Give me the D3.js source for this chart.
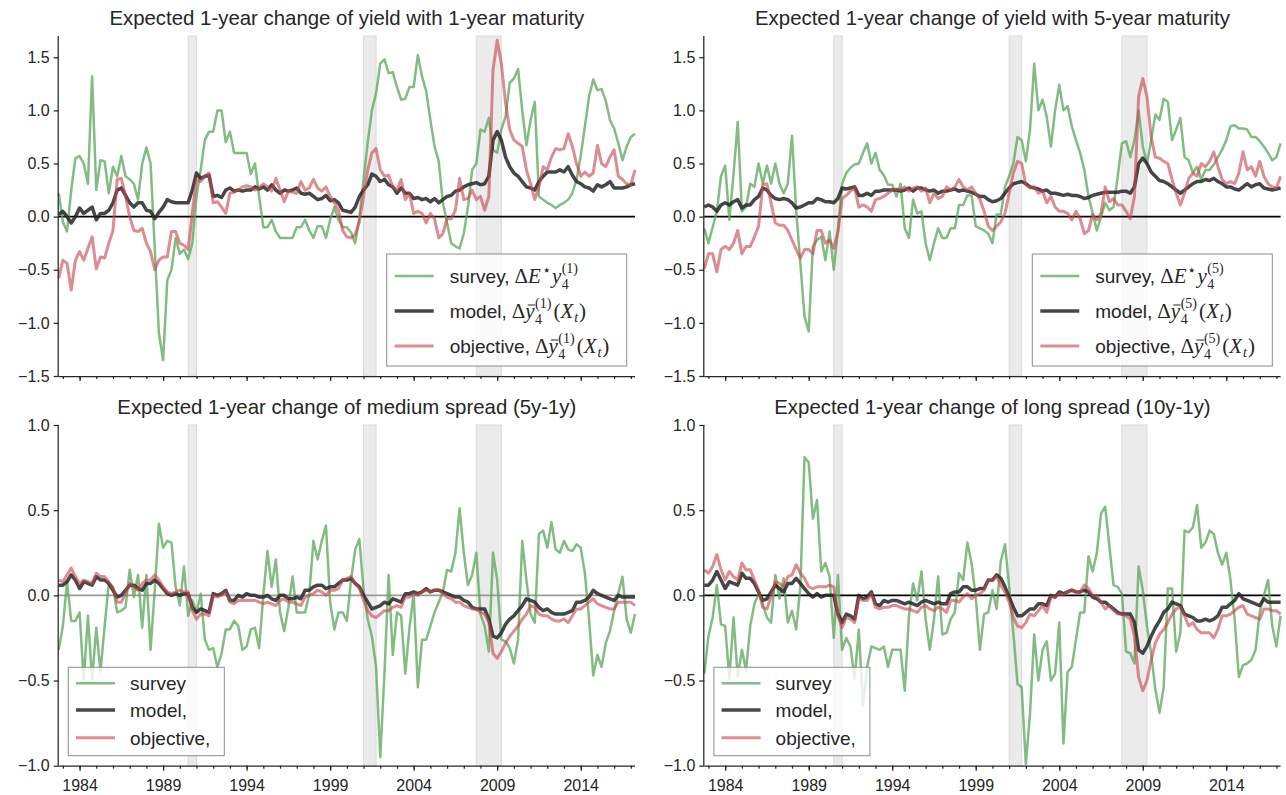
<!DOCTYPE html>
<html>
<head>
<meta charset="utf-8" />
<title>Expected changes</title>
<script src="https://d3js.org/d3.v7.min.js"></script>
<style>
  body { margin: 0; background: #fff; }
  text { font-family: "Liberation Sans", Arial, sans-serif; fill: #262626; white-space: pre; }
</style>
</head>
<body>
<svg id="chart" width="1286" height="795"></svg>
<script>
// quarterly observations, first one 1982Q4
const startYear = 1982.75;
const yearTicks = [1984, 1989, 1994, 1999, 2004, 2009, 2014];
const recessions = [[1990.5, 1991.0], [2001.0, 2001.75], [2007.75, 2009.25]];

// 1-year yield
const surveyY1 = [0.22,-0.05,-0.14,0.25,0.55,0.57,0.5,0.31,1.32,0.25, 0.53,0.52,0.22,0.47,0.38,0.57,0.38,0.35,0.31,0.16,
  0.5,0.65,0.5,-0.3,-1.1,-1.35,-0.6,-0.5,-0.2,-0.35, -0.31,-0.4,-0.25,0.19,0.44,0.72,0.8,0.8,1.0,1.0,
  0.7,0.8,0.6,0.6,0.6,0.6,0.4,0.5,0.19,-0.1, -0.1,-0.03,-0.14,-0.2,-0.2,-0.2,-0.2,-0.1,-0.1,-0.03,
  -0.13,-0.2,-0.09,-0.09,-0.2,
  -0.03,0.09,-0.03,-0.1,-0.1,-0.15,-0.25,0.0,0.35,0.7, 1.0,1.16,1.44,1.48,1.35,1.36,1.22,1.1,1.11,1.22,
  1.22,1.52,1.32,1.18,0.91,0.66,0.52,0.13,-0.06,-0.25, -0.28,-0.3,-0.16,0.09,0.44,0.5,0.82,0.8,0.93,0.63,
  0.6,0.82,0.94,1.26,1.3,1.39,1.0,0.67,0.91,1.08, 0.19,0.16,0.13,0.11,0.08,0.11,0.13,0.16,0.22,0.35,
  0.57,0.85,1.13,1.29,1.19,1.2,1.09,0.91,0.83,0.69, 0.53,0.66,0.75,0.78];
const modelY1 = [0.02,0.05,0.0,-0.06,0.0,0.08,0.03,0.06,0.09,-0.03, 0.03,0.03,0.06,0.13,0.25,0.27,0.2,0.13,0.09,0.13,
  0.13,0.06,0.05,-0.02,0.04,0.09,0.16,0.14,0.13,0.13, 0.13,0.13,0.25,0.41,0.36,0.38,0.39,0.19,0.2,0.18,
  0.25,0.27,0.24,0.25,0.24,0.25,0.25,0.28,0.26,0.28, 0.25,0.3,0.25,0.22,0.25,0.24,0.25,0.27,0.22,0.21,
  0.22,0.19,0.16,0.17,0.2,
  0.15,0.16,0.13,0.06,0.05,0.04,0.09,0.19,0.25,0.3, 0.4,0.38,0.33,0.35,0.3,0.28,0.22,0.27,0.22,0.22,
  0.17,0.18,0.16,0.17,0.14,0.17,0.13,0.16,0.19,0.2, 0.24,0.25,0.28,0.3,0.31,0.32,0.3,0.31,0.38,0.72,
  0.8,0.72,0.56,0.47,0.41,0.38,0.33,0.28,0.27,0.25, 0.33,0.38,0.42,0.42,0.42,0.44,0.42,0.47,0.39,0.33,
  0.31,0.28,0.27,0.24,0.3,0.28,0.3,0.33,0.27,0.27, 0.27,0.28,0.3,0.31];
const objY1 = [-0.58,-0.41,-0.44,-0.69,-0.41,-0.33,-0.41,-0.3,-0.19,-0.49, -0.38,-0.39,-0.25,-0.13,0.35,0.36,0.19,0.0,-0.13,-0.14,
  -0.11,-0.25,-0.33,-0.5,-0.41,-0.38,-0.38,-0.14,-0.14,-0.25, -0.27,-0.31,0.03,0.35,0.33,0.38,0.41,0.13,0.14,0.09,
  0.03,0.22,0.23,0.25,0.28,0.29,0.28,0.25,0.27,0.31, 0.28,0.24,0.36,0.25,0.14,0.24,0.23,0.22,0.33,0.25,
  0.27,0.35,0.27,0.24,0.28,
  0.19,0.13,0.06,-0.13,-0.19,-0.2,-0.17,-0.05,0.19,0.44, 0.6,0.64,0.44,0.38,0.39,0.28,0.25,0.35,0.16,0.22,
  0.03,0.05,0.03,-0.06,0.03,-0.02,-0.2,-0.16,-0.02,-0.02, 0.06,0.36,0.16,0.17,0.25,0.16,0.19,0.06,0.19,1.38,
  1.66,1.44,1.07,0.82,0.72,0.69,0.66,0.44,0.31,0.16, 0.28,0.47,0.44,0.56,0.64,0.63,0.64,0.78,0.66,0.5,
  0.38,0.42,0.38,0.41,0.67,0.5,0.47,0.56,0.63,0.38, 0.35,0.31,0.3,0.44];

// 5-year yield
const surveyY5 = [-0.11,-0.25,-0.1,0.05,0.38,0.48,-0.03,0.4,0.89,0.05, 0.09,0.31,0.28,0.5,0.31,0.48,0.31,0.5,0.31,0.22,
  0.31,0.76,0.06,-0.44,-0.94,-1.08,-0.28,-0.22,-0.19,-0.41, -0.14,-0.5,-0.13,0.31,0.41,0.46,0.49,0.5,0.6,0.69,
  0.5,0.6,0.44,0.39,0.3,0.3,0.19,0.31,-0.11,-0.2, 0.16,0.03,0.05,-0.25,-0.41,-0.25,-0.11,-0.2,-0.2,-0.11,
  -0.11,0.11,0.11,0.2,0.2,
  -0.09,-0.11,-0.13,-0.16,-0.25,0.02,0.02,0.28,0.38,0.5, 0.75,0.72,0.52,0.82,1.44,1.0,1.1,0.94,0.66,1.0,
  1.24,1.0,1.04,0.85,0.72,0.6,0.44,0.19,0.03,-0.13, 0.0,0.13,0.06,0.09,0.38,0.69,0.71,0.56,0.72,1.0,
  0.66,0.5,0.72,0.96,0.91,1.11,1.08,0.72,0.82,0.93, 0.56,0.53,0.41,0.47,0.35,0.44,0.44,0.49,0.56,0.63,
  0.72,0.85,0.86,0.83,0.83,0.82,0.75,0.75,0.71,0.66, 0.6,0.53,0.56,0.69];
const modelY5 = [0.09,0.11,0.09,0.05,0.11,0.13,0.11,0.14,0.16,0.08, 0.11,0.11,0.16,0.19,0.27,0.25,0.2,0.17,0.16,0.17,
  0.16,0.13,0.08,0.09,0.11,0.13,0.13,0.17,0.16,0.14, 0.14,0.13,0.17,0.27,0.26,0.27,0.28,0.2,0.2,0.22,
  0.2,0.24,0.24,0.25,0.25,0.25,0.25,0.24,0.25,0.27, 0.24,0.27,0.27,0.25,0.24,0.25,0.22,0.24,0.24,0.25,
  0.26,0.24,0.25,0.24,0.23,
  0.21,0.19,0.19,0.16,0.14,0.15,0.17,0.22,0.27,0.31, 0.32,0.33,0.31,0.28,0.27,0.26,0.24,0.25,0.22,0.22,
  0.21,0.2,0.21,0.2,0.2,0.19,0.17,0.18,0.2,0.21, 0.22,0.23,0.23,0.23,0.23,0.24,0.24,0.22,0.28,0.5,
  0.55,0.5,0.42,0.38,0.34,0.33,0.31,0.28,0.25,0.22, 0.25,0.28,0.31,0.33,0.33,0.35,0.34,0.36,0.33,0.31,
  0.28,0.28,0.26,0.25,0.28,0.31,0.28,0.3,0.31,0.27, 0.26,0.25,0.26,0.27];
const objY5 = [-0.49,-0.35,-0.35,-0.52,-0.31,-0.28,-0.31,-0.25,-0.13,-0.35, -0.28,-0.28,-0.19,-0.09,0.3,0.31,0.13,-0.06,-0.08,-0.08,
  -0.13,-0.22,-0.31,-0.39,-0.31,-0.31,-0.35,-0.13,-0.13,-0.25, -0.22,-0.3,-0.14,0.17,0.2,0.24,0.27,0.09,0.11,0.09,
  0.05,0.16,0.17,0.19,0.22,0.25,0.26,0.25,0.28,0.24, 0.27,0.28,0.24,0.27,0.13,0.22,0.17,0.19,0.28,0.25,
  0.28,0.35,0.28,0.25,0.28,
  0.22,0.16,0.05,-0.09,-0.13,-0.09,-0.05,0.03,0.22,0.41, 0.52,0.5,0.3,0.27,0.28,0.22,0.24,0.13,0.19,0.09,
  0.05,0.05,0.03,-0.03,0.05,-0.02,-0.16,-0.13,0.02,-0.03, 0.03,0.28,0.14,0.17,0.11,0.11,0.05,-0.02,0.19,1.13,
  1.3,1.13,0.75,0.56,0.55,0.52,0.5,0.35,0.22,0.11, 0.22,0.36,0.41,0.38,0.5,0.47,0.52,0.61,0.47,0.35,
  0.31,0.33,0.31,0.41,0.61,0.44,0.47,0.38,0.52,0.38, 0.31,0.28,0.27,0.38];

// medium spread 5y-1y
const surveyS51 = [-0.32,-0.18,0.08,-0.15,-0.15,-0.1,-0.5,-0.12,-0.5,-0.19, -0.45,-0.18,0.07,0.05,-0.1,-0.09,-0.07,0.15,-0.01,0.12,
  -0.19,0.12,-0.32,0.03,0.42,0.28,0.32,0.31,0.05,-0.06, 0.17,-0.12,-0.03,-0.1,0.01,-0.26,-0.32,-0.31,-0.42,-0.34,
  -0.2,-0.2,-0.15,-0.18,-0.32,-0.3,-0.2,-0.19,-0.31,0.0, 0.26,0.05,0.21,-0.1,-0.21,-0.07,0.11,-0.1,-0.1,-0.1,
  0.01,0.32,0.21,0.32,0.41,
  -0.04,-0.2,-0.1,-0.1,-0.15,0.09,0.27,0.33,0.03,-0.14, -0.24,-0.42,-0.95,-0.46,0.12,-0.35,-0.1,-0.12,-0.46,-0.19,
  0.01,-0.54,-0.26,-0.26,-0.18,-0.1,-0.04,0.02,0.15,0.14, 0.25,0.51,0.25,0.06,0.12,0.25,-0.11,-0.18,-0.33,0.25,
  0.09,-0.26,-0.27,-0.31,-0.4,-0.26,0.32,0.09,-0.11,-0.16, 0.36,0.38,0.28,0.43,0.27,0.25,0.32,0.27,0.26,0.3,
  0.28,0.13,-0.14,-0.47,-0.35,-0.42,-0.28,-0.21,-0.09,0.01, 0.11,-0.14,-0.22,-0.11];
const modelS51 = [0.06,0.06,0.08,0.12,0.09,0.04,0.08,0.07,0.06,0.11, 0.09,0.09,0.07,0.03,-0.01,0.0,0.03,0.06,0.06,0.04,
  0.03,0.07,0.07,0.09,0.07,0.04,0.01,0.0,0.01,0.0, 0.01,0.01,-0.07,-0.1,-0.08,-0.09,-0.1,0.01,0.0,0.01,
  0.03,-0.03,-0.03,0.0,-0.01,0.01,0.0,0.0,-0.01,-0.01, 0.0,-0.02,-0.03,0.0,0.0,-0.02,-0.02,-0.01,-0.02,0.03,
  0.03,0.05,0.06,0.06,0.04,
  0.05,0.05,0.07,0.09,0.09,0.1,0.07,0.05,0.0,-0.04, -0.08,-0.07,-0.06,-0.04,-0.05,-0.02,-0.03,-0.04,0.01,0.01,
  0.02,0.01,0.02,0.04,0.02,0.03,0.03,0.02,0.01,0.0, -0.01,-0.01,-0.03,-0.04,-0.07,-0.08,-0.08,-0.08,-0.14,-0.24,
  -0.25,-0.22,-0.17,-0.14,-0.12,-0.09,-0.06,-0.02,-0.03,-0.04, -0.07,-0.09,-0.08,-0.1,-0.11,-0.11,-0.11,-0.1,-0.09,-0.04,
  -0.04,-0.03,-0.01,0.03,0.01,0.0,-0.01,-0.02,-0.03,0.0, -0.01,-0.01,-0.01,-0.01];
const objS51 = [0.09,0.08,0.12,0.16,0.11,0.07,0.09,0.08,0.07,0.13, 0.11,0.11,0.08,0.04,-0.04,-0.04,0.01,0.07,0.05,0.03,
  0.07,0.09,0.09,0.12,0.09,0.05,0.02,0.01,0.02,0.03, 0.02,0.02,-0.09,-0.14,-0.11,-0.11,-0.12,0.0,-0.01,0.0,
  0.02,-0.04,-0.05,-0.03,-0.03,-0.03,-0.03,-0.03,-0.04,-0.05, -0.04,-0.05,-0.06,-0.03,-0.02,-0.04,-0.04,-0.05,-0.06,-0.01,
  0.0,0.01,0.03,0.02,0.0,
  0.03,0.03,0.04,0.09,0.1,0.11,0.07,0.04,-0.03,-0.09, -0.12,-0.13,-0.11,-0.09,-0.09,-0.07,-0.06,-0.07,-0.01,-0.01,
  0.01,0.0,0.02,0.03,0.02,0.03,0.03,0.01,-0.01,-0.02, -0.04,-0.04,-0.06,-0.07,-0.08,-0.08,-0.1,-0.11,-0.16,-0.34,
  -0.37,-0.33,-0.28,-0.24,-0.21,-0.18,-0.14,-0.11,-0.06,-0.07, -0.11,-0.12,-0.12,-0.14,-0.15,-0.15,-0.14,-0.16,-0.12,-0.08,
  -0.08,-0.06,-0.04,-0.02,-0.05,-0.06,-0.07,-0.08,-0.08,-0.04, -0.04,-0.04,-0.04,-0.06];

// long spread 10y-1y
const surveyS101 = [-0.46,-0.24,-0.13,0.06,-0.17,-0.18,-0.49,-0.13,-0.48,-0.32, -0.44,-0.18,-0.05,0.01,-0.05,-0.13,-0.16,0.12,-0.02,0.1,
  -0.16,-0.09,-0.2,0.05,0.81,0.78,0.45,0.56,0.14,0.19, 0.11,-0.25,0.12,-0.32,-0.25,-0.3,-0.49,-0.2,-0.65,-0.42,
  -0.3,-0.31,-0.32,-0.3,-0.42,-0.32,-0.32,-0.32,-0.56,-0.12, 0.07,-0.03,0.14,-0.14,-0.32,-0.14,0.11,-0.23,-0.22,-0.14,
  -0.1,0.13,0.09,0.31,0.19,
  -0.01,-0.32,-0.11,-0.1,0.03,-0.08,0.2,0.3,0.05,-0.22, -0.52,-0.54,-0.99,-0.69,-0.23,-0.5,-0.32,-0.27,-0.5,-0.46,
  -0.16,-0.87,-0.45,-0.42,-0.26,-0.1,-0.1,0.23,0.14,0.25, 0.48,0.52,0.29,0.06,0.05,0.01,-0.33,-0.34,-0.4,0.17,
  0.03,-0.18,-0.34,-0.55,-0.69,-0.54,0.04,0.04,-0.33,-0.22, 0.38,0.37,0.4,0.53,0.28,0.31,0.38,0.36,0.25,0.18,
  0.25,0.09,-0.14,-0.48,-0.41,-0.4,-0.38,-0.32,-0.1,0.0, 0.09,-0.18,-0.3,-0.12];
const modelS101 = [0.06,0.06,0.09,0.14,0.09,0.04,0.08,0.07,0.06,0.13, 0.1,0.1,0.07,0.02,-0.03,-0.02,0.02,0.06,0.04,0.02,
  0.07,0.07,0.1,0.07,0.04,0.01,-0.01,0.01,-0.01,0.0, 0.0,0.0,-0.11,-0.16,-0.11,-0.12,-0.14,0.0,-0.02,-0.01,
  0.02,-0.05,-0.06,-0.03,-0.04,-0.03,-0.03,-0.04,-0.05,-0.04, -0.05,-0.06,-0.04,-0.03,-0.04,-0.05,-0.04,-0.05,-0.05,0.01,
  0.02,0.02,0.05,0.05,0.03,
  0.03,0.04,0.04,0.09,0.09,0.12,0.1,0.05,-0.01,-0.07, -0.12,-0.12,-0.1,-0.08,-0.08,-0.05,-0.05,-0.06,0.0,-0.01,
  0.02,0.01,0.02,0.03,0.02,0.02,0.03,0.02,-0.01,-0.02, -0.04,-0.04,-0.06,-0.08,-0.1,-0.11,-0.11,-0.11,-0.16,-0.32,
  -0.34,-0.3,-0.24,-0.19,-0.15,-0.1,-0.08,-0.04,-0.05,-0.06, -0.11,-0.12,-0.13,-0.15,-0.15,-0.14,-0.15,-0.14,-0.12,-0.07,
  -0.07,-0.05,-0.03,0.01,-0.02,-0.03,-0.04,-0.05,-0.06,-0.02, -0.04,-0.04,-0.04,-0.04];
const objS101 = [0.15,0.13,0.17,0.24,0.15,0.09,0.14,0.11,0.09,0.19, 0.15,0.15,0.09,0.03,-0.07,-0.08,-0.01,0.08,0.07,0.05,
  0.11,0.12,0.18,0.13,0.1,0.05,0.04,0.05,0.05,0.05, 0.06,0.05,-0.12,-0.19,-0.13,-0.14,-0.16,-0.02,-0.03,-0.03,
  0.01,-0.07,-0.08,-0.07,-0.07,-0.06,-0.06,-0.07,-0.08,-0.08, -0.09,-0.1,-0.07,-0.06,-0.08,-0.09,-0.07,-0.08,-0.1,-0.03,
  -0.03,-0.04,-0.01,0.01,-0.02,
  0.0,0.01,0.03,0.09,0.09,0.11,0.06,0.02,-0.04,-0.13, -0.18,-0.19,-0.16,-0.11,-0.12,-0.09,-0.06,-0.1,-0.01,-0.01,
  0.01,0.0,0.02,0.03,0.02,0.02,0.06,0.04,0.0,0.0, -0.04,-0.08,-0.06,-0.09,-0.11,-0.11,-0.12,-0.14,-0.24,-0.48,
  -0.56,-0.5,-0.38,-0.28,-0.23,-0.2,-0.16,-0.11,-0.08,-0.07, -0.12,-0.18,-0.16,-0.2,-0.22,-0.22,-0.22,-0.25,-0.2,-0.12,
  -0.12,-0.11,-0.09,-0.07,-0.06,-0.11,-0.12,-0.13,-0.14,-0.08, -0.08,-0.09,-0.09,-0.11];

const styles = {
  survey: { color: "#5aa55a", opacity: 0.75, width: 2.5 },
  model: { color: "#262626", opacity: 0.85, width: 3.5 },
  objective: { color: "#c8474d", opacity: 0.62, width: 3 }
};

const panels = [
  { title: "Expected 1-year change of yield with 1-year maturity", left: 58.7, top: 36, bottom: 376,
    yDomain: [-1.5, 1.7], yTicks: [-1.5, -1.0, -0.5, 0.0, 0.5, 1.0, 1.5], labels: false, zero: "#000",
    survey: surveyY1, model: modelY1, objective: objY1, legend: "math", n: "1" },
  { title: "Expected 1-year change of yield with 5-year maturity", left: 704.3, top: 36, bottom: 376,
    yDomain: [-1.5, 1.7], yTicks: [-1.5, -1.0, -0.5, 0.0, 0.5, 1.0, 1.5], labels: false, zero: "#000",
    survey: surveyY5, model: modelY5, objective: objY5, legend: "math", n: "5" },
  { title: "Expected 1-year change of medium spread (5y-1y)", left: 58.7, top: 425, bottom: 765.7,
    yDomain: [-1, 1], yTicks: [-1.0, -0.5, 0.0, 0.5, 1.0], labels: true, zero: "#9a9a9a",
    survey: surveyS51, model: modelS51, objective: objS51, legend: "plain" },
  { title: "Expected 1-year change of long spread (10y-1y)", left: 704.3, top: 425, bottom: 765.7,
    yDomain: [-1, 1], yTicks: [-1.0, -0.5, 0.0, 0.5, 1.0], labels: true, zero: "#000",
    survey: surveyS101, model: modelS101, objective: objS101, legend: "plain" }
];
const plotW = 576.3;

const svg = d3.select("#chart");
svg.append("rect").attr("width", 1286).attr("height", 795).attr("fill", "#fff");

const fmt = d => (d < 0 ? "\u2212" : "") + Math.abs(d).toFixed(1);

// lays out a row of text pieces (plain, italic serif, sub/superscripts)
function mathText(g, x, y, pieces) {
  let cx = x, lastStart = x;
  pieces.forEach(p => {
    const start = (p.stack ? lastStart : cx) + (p.gap || 0);
    const t = g.append("text")
      .attr("x", start).attr("y", y + (p.shift || 0))
      .style("font-size", (p.size || 19) + "px")
      .text(p.t);
    if (p.serif) t.style("font-family", "'Liberation Serif', 'DejaVu Serif', serif");
    if (p.italic) t.style("font-style", "italic");
    const w = t.node().getComputedTextLength();
    if (p.stack) {
      cx = Math.max(cx, start + w);
    } else {
      lastStart = start;
      cx = start + w;
    }
    if (p.bar) {
      g.append("line").attr("x1", start + 2.5).attr("x2", start + w + 0.5)
        .attr("y1", y - 13).attr("y2", y - 13)
        .attr("stroke", "#262626").attr("stroke-width", 1);
    }
  });
}

panels.forEach(p => {
  const n = p.survey.length;
  const dates = d3.range(n).map(i => startYear + i * 0.25);
  const x = d3.scaleLinear().domain([startYear, 2017.25]).range([p.left, p.left + plotW]);
  const y = d3.scaleLinear().domain(p.yDomain).range([p.bottom, p.top]);
  const g = svg.append("g");

  // recession bands
  g.selectAll(".rec").data(recessions).enter().append("rect")
    .attr("x", d => x(d[0])).attr("width", d => x(d[1]) - x(d[0]))
    .attr("y", p.top).attr("height", p.bottom - p.top)
    .attr("fill", "#ebebeb").attr("stroke", "#dadada").attr("stroke-width", 1);

  g.append("line").attr("x1", x.range()[0]).attr("x2", x.range()[1])
    .attr("y1", y(0)).attr("y2", y(0))
    .attr("stroke", p.zero).attr("stroke-width", 1.6);

  const line = d3.line().x((d, i) => x(dates[i])).y(d => y(d));
  ["survey", "model", "objective"].forEach(k => {
    g.append("path").datum(p[k]).attr("d", line)
      .attr("fill", "none").attr("stroke", styles[k].color)
      .attr("stroke-opacity", styles[k].opacity).attr("stroke-width", styles[k].width)
      .attr("stroke-linejoin", "round");
  });

  // axes
  const yAxis = d3.axisLeft(y).tickValues(p.yTicks).tickFormat(fmt).tickSize(5).tickPadding(4);
  const ya = g.append("g").attr("transform", `translate(${p.left},0)`).call(yAxis);
  ya.select(".domain").attr("d", `M-0.5,${p.top}V${p.bottom}`);
  const xMinor = d3.axisBottom(x).tickValues(d3.range(1983, 2018)).tickSize(3).tickFormat("");
  const xm = g.append("g").attr("transform", `translate(0,${p.bottom})`).call(xMinor);
  xm.select(".domain").remove();
  const xAxis = d3.axisBottom(x).tickValues(yearTicks).tickSize(5).tickPadding(9)
    .tickFormat(d => p.labels ? String(d) : "");
  const xa = g.append("g").attr("transform", `translate(0,${p.bottom})`).call(xAxis);
  xa.select(".domain").attr("d", `M${x.range()[0]},0.5H${x.range()[1]}`);
  [ya, xm, xa].forEach(a => {
    a.selectAll("path, line").attr("stroke", "#262626").attr("stroke-width", 1.25);
    a.selectAll("text").style("font-size", "16px").attr("fill", "#262626")
      .style("font-family", "'Liberation Sans', Arial, sans-serif");
  });

  g.append("text").attr("x", p.left + plotW / 2).attr("y", p.top - 11)
    .attr("text-anchor", "middle").style("font-size", "20.4px").text(p.title);

  // legend
  const lg = svg.append("g");
  let bx, by, bw, bh, hx, tx, rows;
  if (p.legend === "math") {
    bx = p.left + 328; by = 254; bw = 240; bh = 112; hx = bx + 8; tx = bx + 63;
    rows = [276, 311, 346];
  } else {
    bx = p.left + 9.6; by = 667.3; bw = 156; bh = 88.4; hx = bx + 7.7; tx = bx + 61.7;
    rows = [683.3, 710, 737.7];
  }
  lg.append("rect").attr("x", bx).attr("y", by).attr("width", bw).attr("height", bh)
    .attr("fill", "#fff").attr("fill-opacity", 0.8).attr("stroke", "#8c8c8c").attr("stroke-width", 1);
  ["survey", "model", "objective"].forEach((k, i) => {
    lg.append("line").attr("x1", hx).attr("x2", hx + 39).attr("y1", rows[i]).attr("y2", rows[i])
      .attr("stroke", styles[k].color).attr("stroke-opacity", styles[k].opacity)
      .attr("stroke-width", styles[k].width);
  });
  if (p.legend === "plain") {
    ["survey", "model,", "objective,"].forEach((t, i) => {
      lg.append("text").attr("x", tx).attr("y", rows[i] + 7).style("font-size", "19px").text(t);
    });
  } else {
    const sup = "(" + p.n + ")";
    const idx = [
      { t: "4", serif: true, size: 14, shift: 6, gap: 0.5 },
      { t: sup, serif: true, size: 14, shift: -10, stack: true }
    ];
    mathText(lg, tx, rows[0] + 7, [
      { t: "survey," },
      { t: "\u0394", serif: true, size: 21, gap: 5 },
      { t: "E", serif: true, italic: true, size: 21 },
      { t: "\u22c6", serif: true, size: 15, shift: -8, gap: 1 },
      { t: "y", serif: true, italic: true, size: 21, gap: 1 }
    ].concat(idx));
    const modelPieces = lbl => [
      { t: lbl },
      { t: "\u0394", serif: true, size: 21, gap: 5 },
      { t: "y", serif: true, italic: true, size: 21, bar: true }
    ].concat(idx, [
      { t: "(", serif: true, size: 21, gap: 2 },
      { t: "X", serif: true, italic: true, size: 21 },
      { t: "t", serif: true, italic: true, size: 14, shift: 4, gap: 1 },
      { t: ")", serif: true, size: 21, gap: 1 }
    ]);
    mathText(lg, tx, rows[1] + 7, modelPieces("model,"));
    mathText(lg, tx, rows[2] + 7, modelPieces("objective,"));
  }
});
</script>
</body>
</html>
